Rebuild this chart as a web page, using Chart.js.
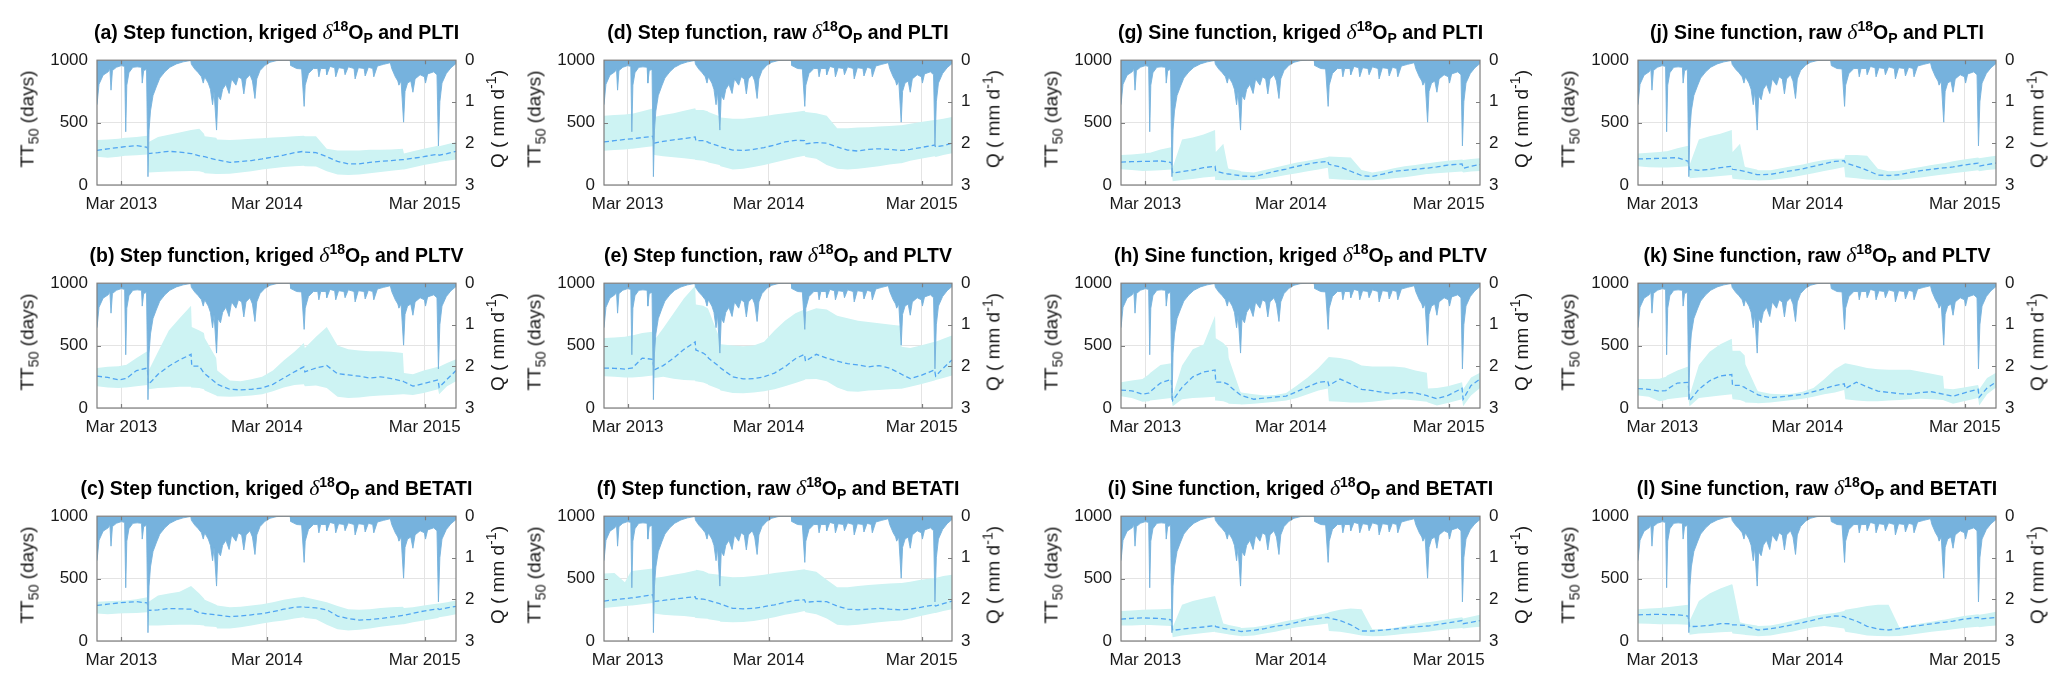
<!DOCTYPE html>
<html><head><meta charset="utf-8">
<title>TT50 panels</title>
<script src="https://cdn.jsdelivr.net/npm/chart.js@4.4.1/dist/chart.umd.min.js"></script>
<style>
html,body{margin:0;padding:0;background:#fff;width:2067px;height:686px;overflow:hidden;}
#fig{position:relative;width:2067px;height:686px;font-family:"Liberation Sans",Arial,Helvetica,sans-serif;color:#1a1a1a;}
#fig canvas{position:absolute;}
.ttl{position:absolute;transform:translateX(-50%);white-space:nowrap;font-weight:bold;font-size:19.5px;line-height:22px;color:#000;}
.ttl sup{font-size:72%;vertical-align:0.55em;line-height:0;}
.ttl sub{font-size:72%;vertical-align:-0.3em;line-height:0;}
.dl{font-family:"Liberation Serif","DejaVu Serif",serif;font-style:italic;font-weight:normal;font-size:112%;}
.yl{position:absolute;white-space:nowrap;font-size:19px;line-height:1;transform:translate(-50%,-50%) rotate(-90deg);color:#1a1a1a;}
.yl sub{font-size:75%;vertical-align:-0.35em;line-height:0;}
.yl sup{font-size:75%;vertical-align:0.5em;line-height:0;}
</style></head>
<body><div id="fig"></div>
<script>
// ---------- x axis (sample index) and tick labels ----------
const tickValues = [68, 473, 913];
const tickLabels = ['Mar 2013', 'Mar 2014', 'Mar 2015'];
const ttTicks = [0, 500, 1000];
const qTicks = [0, 1, 2, 3];

// ---------- discharge Q (mm/d), same in every panel ----------
const qIndex = [0,5.6,17,31,36,39,43,54,68,77,80,83,89,100,112,124,126,130,138,142,145,149,156,166,175,189,203,221,240,259,261,263,273,282,291,296,300,310,316,322,326,333,337,344,350,359,368,375,387,394,403,409,415,426,433,440,445,454,468,482,500,519,538,540,556,570,577,580,589,603,615,618,623,638,640,649,662,665,673,688,691,700,716,719,728,744,747,756,768,771,781,798,817,821,831,838,841,847,854,858,865,874,880,886,900,912,915,921,938,947,951,955,961,973,986,1000];
const qValues = [1.07,0.58,0.36,0.28,0.22,0.72,0.25,0.17,0.13,0.15,1.72,0.6,0.3,0.17,0.16,0.17,0.55,0.25,0.22,2.8,1.68,1.22,0.85,0.62,0.43,0.28,0.17,0.09,0.04,0.01,0,0.1,0.22,0.3,0.4,0.55,0.4,0.55,0.7,1.07,0.75,1.68,0.85,0.95,0.7,0.58,0.8,0.45,0.6,0.4,0.45,0.81,0.45,0.35,0.5,0.92,0.45,0.25,0.12,0.05,0.01,0,0,0.13,0.2,0.21,1.11,0.6,0.32,0.2,0.2,0.4,0.2,0.2,0.35,0.15,0.18,0.4,0.18,0.2,0.35,0.16,0.2,0.45,0.18,0.2,0.38,0.17,0.2,0.4,0.14,0.1,0.06,0.2,0.4,0.5,0.6,0.5,1.49,0.75,0.55,0.5,0.77,0.45,0.35,0.4,0.55,0.33,0.28,0.35,2.06,1.0,0.55,0.32,0.18,0.08];

// ---------- TT50 (days): sample index shared by all TT50 series ----------
const ttIndex = [0,30,60,78,81,110,140,144,170,200,230,262,264,285,298,300,332,335,370,400,430,460,490,520,550,576,579,610,640,670,700,730,760,790,820,852,855,880,910,950,953,975,1000];

// (a) Step, kriged, PLTI
const medA = [277,290,300,307,307,315,302,252,259,270,264,252,252,234,227,227,202,202,181,189,196,209,224,239,259,270,264,259,227,189,169,169,181,189,196,204,204,214,227,247,239,252,270];
const upA  = [360,365,370,378,378,385,395,345,385,403,420,441,441,451,410,390,378,365,360,365,370,375,380,385,390,395,390,390,290,277,277,277,282,282,285,290,252,270,290,315,310,327,345];
const lowA = [227,219,227,234,234,239,244,100,105,108,110,112,112,110,100,95,88,88,90,100,110,125,135,145,150,155,150,148,110,85,80,85,95,105,115,125,125,140,160,180,185,195,205];
// (b) Step, kriged, PLTV
const medB = [255,245,225,235,235,300,320,190,270,335,385,430,335,335,280,275,200,190,150,145,150,160,190,240,290,330,290,320,340,275,265,255,240,250,235,215,210,175,195,225,165,230,300];
const upB  = [320,330,335,345,345,400,455,300,450,620,720,820,650,620,600,560,400,300,220,215,230,250,300,380,450,520,480,570,650,500,470,460,455,455,450,440,280,270,300,330,330,360,390];
const lowB = [175,165,160,165,165,175,185,150,160,165,170,170,165,160,150,140,100,95,90,95,100,110,135,165,185,190,175,180,160,90,80,85,95,100,105,110,110,105,120,150,110,175,215];
// (c) Step, kriged, BETATI
const medC = [285,295,305,310,310,315,305,245,250,260,258,255,255,225,222,220,210,208,195,200,210,220,235,255,270,275,272,265,250,200,180,168,172,180,192,205,205,222,240,258,252,265,277];
const upC  = [315,318,322,325,325,335,350,315,365,380,395,440,440,380,340,330,290,285,270,275,285,295,310,330,345,355,350,330,310,280,255,250,255,265,270,275,265,270,285,300,300,310,325];
const lowC = [220,215,220,222,222,225,230,125,125,128,130,130,130,128,125,118,112,100,100,110,125,140,155,165,180,190,185,175,130,95,85,90,100,115,125,135,135,150,165,185,190,200,215];
// (d) Step, raw, PLTI
const medD = [345,355,365,370,370,380,390,335,350,362,372,385,355,355,345,340,310,305,280,277,285,300,320,345,358,355,330,340,335,305,280,272,285,290,285,277,277,285,300,320,305,315,335];
const upD  = [555,560,565,570,570,590,612,545,560,575,595,615,600,600,590,585,550,540,530,530,540,550,565,575,585,595,585,575,555,455,455,460,462,468,472,478,478,490,505,520,520,530,545];
const lowD = [275,280,285,290,290,300,310,240,230,222,215,205,200,195,185,180,160,150,125,130,145,160,180,200,220,235,225,210,160,130,125,130,140,150,165,175,175,195,210,230,225,240,255];
// (e) Step, raw, PLTV
const medE = [320,318,312,320,320,400,390,305,340,400,470,530,465,440,415,400,330,320,250,233,235,250,280,330,395,430,375,430,400,375,355,345,330,340,320,275,270,235,260,305,255,320,385];
const upE  = [560,565,570,580,580,600,610,540,640,760,880,980,830,820,800,790,560,510,500,495,500,530,620,700,760,790,770,800,790,740,720,700,690,680,670,660,490,480,500,530,530,555,580];
const lowE = [255,250,245,245,245,250,260,240,250,235,225,220,215,205,190,185,150,140,120,118,125,135,150,175,200,225,230,232,215,165,135,130,140,145,150,155,155,170,190,220,225,240,260];
// (f) Step, raw, BETATI
const medF = [320,330,340,345,345,358,370,318,325,335,345,355,340,335,330,325,300,295,262,258,262,275,290,310,325,330,310,318,315,280,255,250,255,262,255,250,250,255,270,290,280,300,320];
const upF  = [540,545,470,560,560,570,580,505,515,530,545,565,570,560,545,540,530,520,510,512,520,530,545,555,565,575,570,555,490,430,430,440,448,455,460,465,465,475,490,505,505,520,530];
const lowF = [265,272,280,285,285,295,305,220,210,205,200,190,185,180,178,175,160,155,150,152,160,175,190,210,225,240,230,215,180,130,125,130,140,150,158,165,165,180,200,225,225,240,255];
// (g) Sine, kriged, PLTI
const medG = [184,187,189,190,190,193,180,95,108,120,139,150,110,95,88,88,75,72,68,88,110,128,150,168,182,190,166,145,110,76,68,88,110,118,126,136,136,145,160,169,134,150,164];
const upG  = [240,245,252,258,258,285,302,140,365,380,405,441,265,330,140,130,115,108,100,120,140,160,180,195,210,225,228,225,220,120,100,115,135,150,160,175,175,185,195,205,200,208,215];
const lowG = [126,120,113,115,115,118,125,30,40,48,60,68,40,38,38,38,40,38,40,50,65,80,95,110,125,139,50,45,40,38,38,45,55,63,75,88,88,95,101,108,100,108,113];
// (h) Sine, kriged, PLTV
const medH = [144,138,110,120,131,200,230,60,165,250,288,305,207,207,190,180,106,100,70,80,88,95,131,170,205,215,181,232,194,150,140,125,115,126,120,100,95,75,100,158,70,180,232];
const upH  = [207,220,232,270,280,345,358,100,340,470,509,740,559,520,480,400,135,125,110,100,105,120,180,245,320,400,408,400,383,340,332,332,332,325,300,282,156,160,175,207,150,245,282];
const lowH = [95,80,50,55,60,70,80,15,70,80,85,90,60,55,40,35,30,28,35,42,50,60,80,110,140,156,55,50,45,45,50,60,70,68,60,50,45,20,40,70,15,100,160];
// (i) Sine, kriged, BETATI
const medI = [175,182,185,183,183,180,170,85,95,105,112,125,115,101,95,93,78,76,85,100,118,130,150,172,182,189,185,164,130,80,80,88,95,105,113,120,120,132,145,164,139,150,164];
const upI  = [240,245,250,252,252,255,258,110,290,320,340,360,360,140,130,128,110,105,110,125,140,160,175,195,210,225,230,250,260,255,95,95,105,120,135,150,150,160,175,190,180,195,210];
const lowI = [125,125,128,128,128,125,120,30,45,55,65,75,70,60,55,52,40,38,45,60,75,95,110,120,130,140,80,75,60,45,38,40,48,58,65,75,75,85,95,105,100,108,115];
// (j) Sine, raw, PLTI
const medJ = [209,211,214,216,216,219,190,124,118,125,139,150,126,117,110,108,83,83,85,101,115,130,150,170,190,194,178,150,118,80,76,82,101,115,126,137,137,145,160,175,151,163,176];
const upJ  = [252,258,265,270,270,295,315,160,365,390,410,441,265,330,150,145,125,118,118,135,150,165,185,200,210,210,240,240,235,130,110,115,130,145,160,175,175,190,205,220,215,225,235];
const lowJ = [150,142,140,140,140,145,150,55,60,65,72,80,50,45,42,40,38,36,40,50,62,78,95,112,128,144,63,55,45,40,38,42,50,60,72,85,85,95,105,118,110,120,126];
// (k) Sine, raw, PLTV
const medK = [156,150,135,140,150,200,205,58,150,218,257,268,181,181,165,160,112,105,82,90,100,108,131,155,180,194,156,207,169,135,125,115,111,125,130,111,108,95,120,150,86,160,207];
const upK  = [232,232,235,250,260,300,332,100,345,450,510,555,458,458,420,350,150,135,115,110,115,130,160,230,310,355,358,340,320,310,307,307,307,290,275,257,156,150,165,185,150,240,282];
const lowK = [100,90,55,65,70,80,90,15,80,90,100,110,70,65,50,45,40,38,45,55,65,75,90,110,125,145,70,60,55,55,60,65,70,75,70,65,60,35,55,80,20,110,165];
// (l) Sine, raw, BETATI
const medL = [210,212,214,212,212,210,200,115,118,125,139,138,130,128,125,122,92,88,98,113,130,148,168,188,201,196,189,160,118,95,88,100,115,126,138,150,150,160,175,189,175,182,189];
const upL  = [255,260,265,270,270,280,290,160,320,380,420,455,450,150,140,138,125,120,125,140,160,180,200,215,225,240,250,265,280,290,290,110,125,140,155,170,170,185,200,215,210,220,235];
const lowL = [140,138,135,135,135,135,130,50,60,65,70,75,60,55,50,48,40,38,45,60,75,95,110,120,110,100,75,60,45,40,38,40,50,62,75,85,85,95,105,115,110,118,125];

// ---------- panel labels ----------
const panelLetters   = ['a','b','c','d','e','f','g','h','i','j','k','l'];
const panelFunctions = ['Step','Step','Step','Step','Step','Step','Sine','Sine','Sine','Sine','Sine','Sine'];
const panelInputs    = ['kriged','kriged','kriged','raw','raw','raw','kriged','kriged','kriged','raw','raw','raw'];
const panelModels    = ['PLTI','PLTV','BETATI','PLTI','PLTV','BETATI','PLTI','PLTV','BETATI','PLTI','PLTV','BETATI'];
const panelSeries = [
  [medA, upA, lowA], [medB, upB, lowB], [medC, upC, lowC],
  [medD, upD, lowD], [medE, upE, lowE], [medF, upF, lowF],
  [medG, upG, lowG], [medH, upH, lowH], [medI, upI, lowI],
  [medJ, upJ, lowJ], [medK, upK, lowK], [medL, upL, lowL]
];

// ---------- layout / style ----------
const colLeft  = [97, 604, 1121, 1638];
const colWidth = [359, 348, 359, 358];
const rowTop   = [53, 276, 509];
const plotH    = 132;
const PAD_L = 62, PAD_R = 42, PAD_T = 12, PAD_B = 34;
const HYD = 'rgb(118,178,221)';
const BAND = 'rgb(205,243,243)';
const MED = 'rgb(80,165,242)';
const GRID = '#e4e4e4';
const AXIS = '#7d7d7d';
const TXT = '#1a1a1a';

Chart.defaults.font.family = '"Liberation Sans", Arial, sans-serif';
Chart.defaults.color = TXT;

const xy = (xs, ys) => xs.map((x, i) => ({x: x, y: ys[i]}));

const boxPlugin = {
  id: 'box',
  afterDraw(chart) {
    const {ctx, chartArea: a, scales} = chart;
    ctx.save();
    ctx.strokeStyle = AXIS;
    ctx.lineWidth = 1.2;
    ctx.strokeRect(a.left, a.top, a.right - a.left, a.bottom - a.top);
    ctx.beginPath();
    tickValues.forEach(v => {
      const x = Math.round(scales.x.getPixelForValue(v)) + 0.5;
      ctx.moveTo(x, a.bottom); ctx.lineTo(x, a.bottom - 4);
      ctx.moveTo(x, a.top); ctx.lineTo(x, a.top + 4);
    });
    [500].forEach(v => {
      const y = Math.round(scales.y.getPixelForValue(v)) + 0.5;
      ctx.moveTo(a.left, y); ctx.lineTo(a.left + 4, y);
    });
    [1, 2].forEach(v => {
      const y = Math.round(scales.q.getPixelForValue(v)) + 0.5;
      ctx.moveTo(a.right, y); ctx.lineTo(a.right - 4, y);
    });
    ctx.stroke();
    ctx.restore();
  }
};

const fig = document.getElementById('fig');

panelSeries.forEach((s, k) => {
  const col = Math.floor(k / 3), row = k % 3;
  const L = colLeft[col], W = colWidth[col], T = rowTop[row];
  const cv = document.createElement('canvas');
  cv.width = W + PAD_L + PAD_R;
  cv.height = plotH + PAD_T + PAD_B;
  cv.style.left = (L - PAD_L) + 'px';
  cv.style.top = (T - PAD_T) + 'px';
  cv.style.width = cv.width + 'px';
  cv.style.height = cv.height + 'px';
  fig.appendChild(cv);

  // title
  const t = document.createElement('div');
  t.className = 'ttl';
  t.style.left = (L + W / 2) + 'px';
  t.style.top = (T - 32) + 'px';
  t.innerHTML = '(' + panelLetters[k] + ') ' + panelFunctions[k] + ' function, ' + panelInputs[k] +
    ' <span class="dl">δ</span><sup>18</sup>O<sub>P</sub> and ' + panelModels[k];
  fig.appendChild(t);

  // left axis label
  const yl = document.createElement('div');
  yl.className = 'yl';
  yl.style.left = (L - 70) + 'px';
  yl.style.top = (T + plotH / 2) + 'px';
  yl.innerHTML = 'TT<sub>50</sub> (days)';
  fig.appendChild(yl);

  // right axis label
  const ql = document.createElement('div');
  ql.className = 'yl';
  ql.style.left = (L + W + 41) + 'px';
  ql.style.top = (T + plotH / 2) + 'px';
  ql.innerHTML = 'Q ( mm d<sup>-1</sup>)';
  fig.appendChild(ql);

  new Chart(cv, {
    type: 'line',
    data: {
      datasets: [
        {data: xy(ttIndex, s[2]), yAxisID: 'y', borderWidth: 0, borderColor: 'rgba(0,0,0,0)', pointRadius: 0, fill: false, order: 3},
        {data: xy(ttIndex, s[1]), yAxisID: 'y', borderWidth: 0, borderColor: 'rgba(0,0,0,0)', backgroundColor: BAND, pointRadius: 0, fill: '-1', order: 3},
        {data: xy(ttIndex, s[0]), yAxisID: 'y', borderWidth: 1.3, borderDash: [5, 3], borderColor: MED, pointRadius: 0, fill: false, order: 2},
        {data: xy(qIndex, qValues), yAxisID: 'q', borderWidth: 0.9, borderColor: HYD, backgroundColor: HYD, pointRadius: 0, fill: 'origin', order: 0}
      ]
    },
    options: {
      responsive: false,
      animation: false,
      events: [],
      layout: {padding: {top: PAD_T, bottom: 0, left: 0, right: 0}},
      plugins: {legend: {display: false}, tooltip: {enabled: false}},
      elements: {line: {tension: 0}},
      scales: {
        x: {
          type: 'linear', min: 0, max: 1000,
          afterBuildTicks: ax => { ax.ticks = tickValues.map(v => ({value: v})); },
          afterFit: ax => { ax.height = PAD_B; },
          ticks: {callback: (v, i) => tickLabels[i], autoSkip: false, maxRotation: 0, padding: 9, font: {size: 17}, color: TXT},
          grid: {color: GRID, drawTicks: false, lineWidth: 1},
          border: {display: false}
        },
        y: {
          position: 'left', min: 0, max: 1000,
          afterBuildTicks: ax => { ax.ticks = ttTicks.map(v => ({value: v})); },
          afterFit: ax => { ax.width = PAD_L; },
          ticks: {callback: (v, i) => String(ttTicks[i]), padding: 9, font: {size: 17}, color: TXT},
          grid: {color: GRID, drawTicks: false, lineWidth: 1},
          border: {display: false}
        },
        q: {
          position: 'right', reverse: true, min: 0, max: 3,
          afterBuildTicks: ax => { ax.ticks = qTicks.map(v => ({value: v})); },
          afterFit: ax => { ax.width = PAD_R; },
          ticks: {callback: (v, i) => String(qTicks[i]), padding: 9, font: {size: 17}, color: TXT},
          grid: {display: false, drawTicks: false},
          border: {display: false}
        }
      }
    },
    plugins: [boxPlugin]
  });
});
</script>
</body></html>
